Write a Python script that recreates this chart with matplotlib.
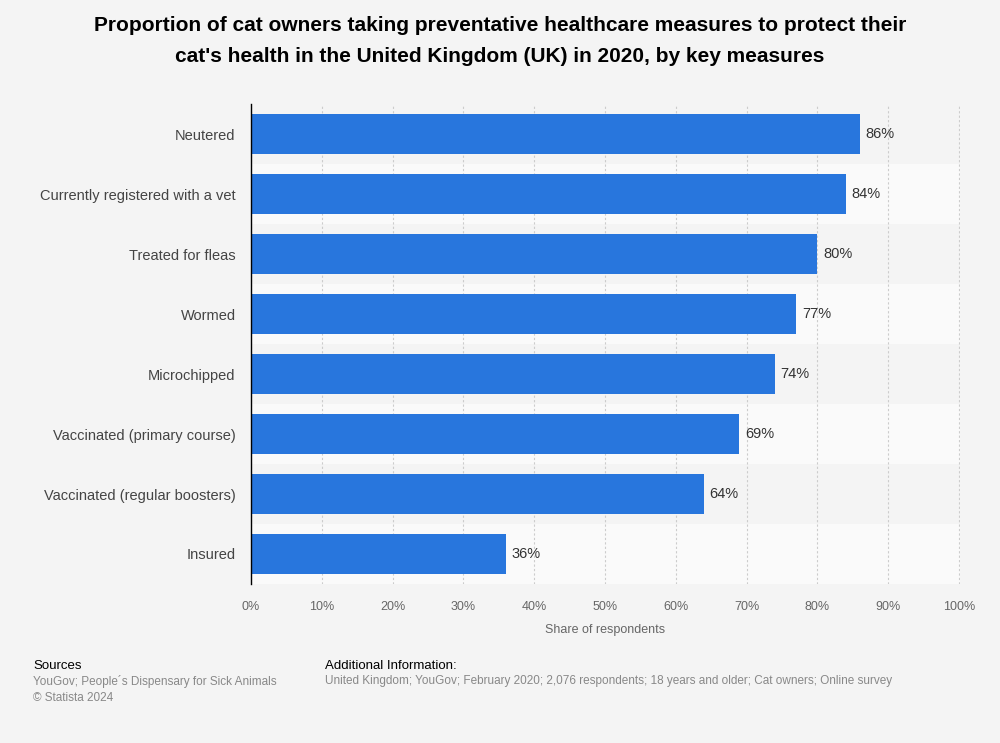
import numpy as np
import matplotlib.pyplot as plt

# data
measures = ['Neutered', 'Currently registered with a vet', 'Treated for fleas', 'Wormed',
            'Microchipped', 'Vaccinated (primary course)', 'Vaccinated (regular boosters)', 'Insured']
shares = [86, 84, 80, 77, 74, 69, 64, 36]
xticks = [0, 10, 20, 30, 40, 50, 60, 70, 80, 90, 100]

plt.rcParams['font.family'] = ['Liberation Sans', 'DejaVu Sans']

fig = plt.figure(figsize=(10, 7.43), dpi=100, facecolor='#f4f4f4')
ax = fig.add_axes([0.251, 0.214, 0.709, 0.646])
ax.set_facecolor('#f4f4f4')

y = np.arange(len(measures))
# alternating row bands
for i in y:
    if i % 2 == 1:
        ax.axhspan(i - 0.5, i + 0.5, color='#fafafa', zorder=0, lw=0)

ax.barh(y, shares, height=0.67, color='#2876dd', zorder=3)
for yi, v in zip(y, shares):
    ax.text(v + 0.8, yi, f'{v}%', va='center', ha='left', fontsize=10.5, color='#333333', zorder=4)

ax.set_ylim(len(measures) - 0.5, -0.5)
ax.set_xlim(0, 100.15)
ax.set_yticks(y)
ax.set_yticklabels(measures, fontsize=10.5, color='#444444')
ax.set_xticks(xticks)
ax.set_xticklabels([f'{t}%' for t in xticks], fontsize=9, color='#666666')
ax.tick_params(axis='both', length=0)
ax.tick_params(axis='y', pad=11)
ax.tick_params(axis='x', pad=12)
ax.grid(axis='x', color='#cccccc', linestyle=(0, (2, 2)), lw=0.8, zorder=1)
for s in ['top', 'right', 'bottom']:
    ax.spines[s].set_visible(False)
ax.spines['left'].set_color('#000000')
ax.spines['left'].set_linewidth(1)
ax.spines['left'].set_zorder(5)
ax.set_xlabel('Share of respondents', fontsize=9, color='#666666', labelpad=8)

fig.text(0.5, 0.978, "Proportion of cat owners taking preventative healthcare measures to protect their\n"
         "cat's health in the United Kingdom (UK) in 2020, by key measures",
         ha='center', va='top', fontsize=15, fontweight='bold', color='#000000', linespacing=1.75)

fig.text(0.033, 0.096, 'Sources', fontsize=9.5, color='#000000', va='bottom')
fig.text(0.033, 0.092, 'YouGov; People\u00b4s Dispensary for Sick Animals\n\u00a9 Statista 2024',
         fontsize=8.5, color='#888888', va='top', linespacing=1.45)
fig.text(0.325, 0.096, 'Additional Information:', fontsize=9.5, color='#000000', va='bottom')
fig.text(0.325, 0.092, 'United Kingdom; YouGov; February 2020; 2,076 respondents; 18 years and older; Cat owners; Online survey',
         fontsize=8.5, color='#888888', va='top')

fig.savefig('out.png', dpi=100, facecolor=fig.get_facecolor())
